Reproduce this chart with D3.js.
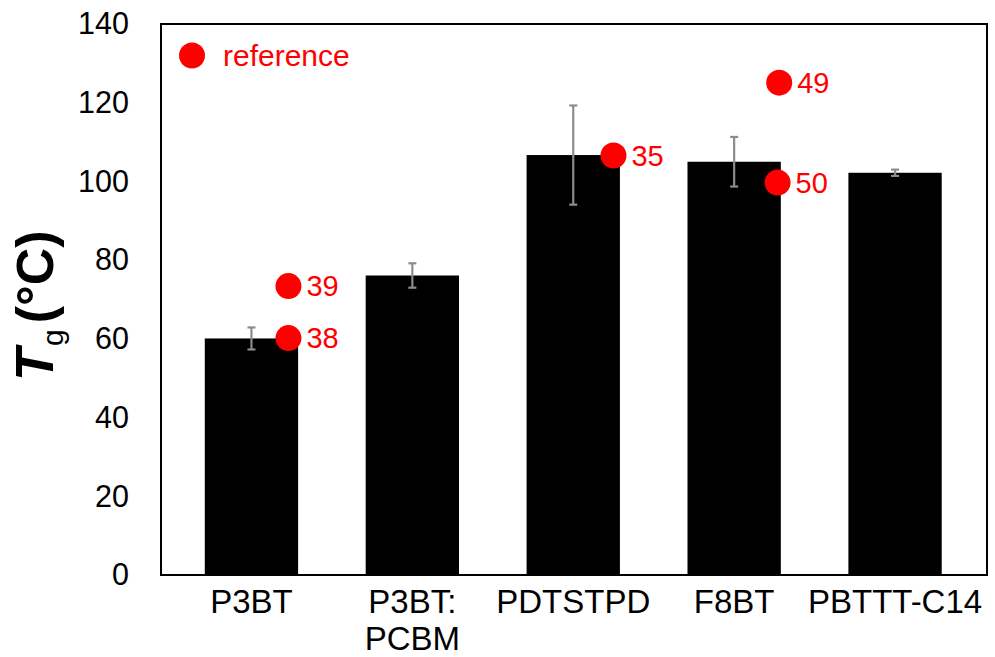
<!DOCTYPE html>
<html>
<head>
<meta charset="utf-8">
<script src="https://cdn.jsdelivr.net/npm/d3@7"></script>
<style>
  html, body { margin: 0; padding: 0; background: #fff; }
  svg { display: block; font-family: "Liberation Sans", Arial, sans-serif; }
</style>
</head>
<body>
<svg id="chart" width="995" height="657"></svg>
<script>
// ---- data ----
const categories = ["P3BT", "P3BT:\nPCBM", "PDTSTPD", "F8BT", "PBTTT-C14"];
const tgValues   = [60.1, 76.1, 106.7, 105.0, 102.2];
const tgErrors   = [2.8, 3.1, 12.6, 6.3, 0.8];
const refCategory = ["P3BT", "P3BT", "PDTSTPD", "F8BT", "F8BT"];
const refOffset   = [0.23, 0.23, 0.25, 0.28, 0.27];   // position within category (fraction of step)
const refValues   = [73.4, 60.2, 106.6, 125.1, 99.7];
const refLabels   = ["39", "38", "35", "49", "50"];
const yTicks = [0, 20, 40, 60, 80, 100, 120, 140];

// ---- layout ----
const frame = { left: 161, right: 987, top: 24, bottom: 575 };
const svg = d3.select("#chart");

const x = d3.scaleBand()
  .domain(categories)
  .range([171, 975.5])
  .paddingInner(0.42)
  .paddingOuter(0.21);

const y = d3.scaleLinear().domain([0, 140]).range([frame.bottom, frame.top]);

// bars
svg.append("g").selectAll("rect")
  .data(categories)
  .join("rect")
  .attr("x", d => x(d))
  .attr("width", x.bandwidth())
  .attr("y", (d, i) => y(tgValues[i]))
  .attr("height", (d, i) => y(0) - y(tgValues[i]))
  .attr("fill", "#000");

// error bars
const eb = svg.append("g").attr("stroke", "#8c8c8c").attr("stroke-width", 2.2);
categories.forEach((c, i) => {
  const cx = x(c) + x.bandwidth() / 2;
  const hi = y(tgValues[i] + tgErrors[i]);
  const lo = y(tgValues[i] - tgErrors[i]);
  eb.append("line").attr("x1", cx).attr("x2", cx).attr("y1", hi).attr("y2", lo);
  eb.append("line").attr("x1", cx - 4).attr("x2", cx + 4).attr("y1", hi).attr("y2", hi);
  eb.append("line").attr("x1", cx - 4).attr("x2", cx + 4).attr("y1", lo).attr("y2", lo);
});

// frame
svg.append("rect")
  .attr("x", frame.left).attr("y", frame.top)
  .attr("width", frame.right - frame.left).attr("height", frame.bottom - frame.top)
  .attr("fill", "none").attr("stroke", "#000").attr("stroke-width", 2);

// y axis (labels only)
const yAxis = d3.axisLeft(y).tickValues(yTicks).tickSize(0).tickPadding(0).tickFormat(d3.format("d"));
const yg = svg.append("g").attr("transform", "translate(129,0)").call(yAxis);
yg.select(".domain").remove();
yg.selectAll("text").attr("font-size", 30.5).attr("fill", "#000")
  .attr("font-family", "'Liberation Sans', Arial, sans-serif");

// x axis category labels
const xAxis = d3.axisBottom(x).tickSize(0).tickFormat("");
const xg = svg.append("g").attr("transform", `translate(0,${frame.bottom})`).call(xAxis);
xg.select(".domain").remove();
xg.selectAll(".tick").each(function(d) {
  const lines = d.split("\n");
  const t = d3.select(this).append("text")
    .attr("text-anchor", "middle")
    .attr("font-size", 33)
    .attr("fill", "#000")
    .attr("font-family", "'Liberation Sans', Arial, sans-serif");
  lines.forEach((ln, k) => {
    t.append("tspan").attr("x", 0).attr("y", 38 + k * 37).text(ln);
  });
});

// reference points
const refX = i => x(refCategory[i]) + x.bandwidth() / 2 + refOffset[i] * x.step();
const pts = svg.append("g");
refValues.forEach((v, i) => {
  pts.append("circle").attr("cx", refX(i)).attr("cy", y(v)).attr("r", 13).attr("fill", "#ff0000");
  pts.append("text").attr("x", refX(i) + 18).attr("y", y(v)).attr("dy", "0.35em")
    .attr("font-size", 29).attr("fill", "#ff0000").text(refLabels[i]);
});

// legend
svg.append("circle").attr("cx", 192).attr("cy", 55.5).attr("r", 13).attr("fill", "#ff0000");
svg.append("text").attr("x", 223).attr("y", 55.5).attr("dy", "0.35em")
  .attr("font-size", 30).attr("fill", "#ff0000").text("reference");

// y axis title
const title = svg.append("text")
  .attr("transform", "translate(53,381) rotate(-90)")
  .attr("fill", "#000");
title.append("tspan").attr("font-size", 54).attr("font-weight", "bold").attr("font-style", "italic").text("T");
title.append("tspan").attr("font-size", 30).attr("dy", 10).attr("dx", 2).text("g");
title.append("tspan").attr("font-size", 52).attr("font-weight", "bold").attr("dy", -10).attr("dx", 6).text("(°C)");
</script>
</body>
</html>
